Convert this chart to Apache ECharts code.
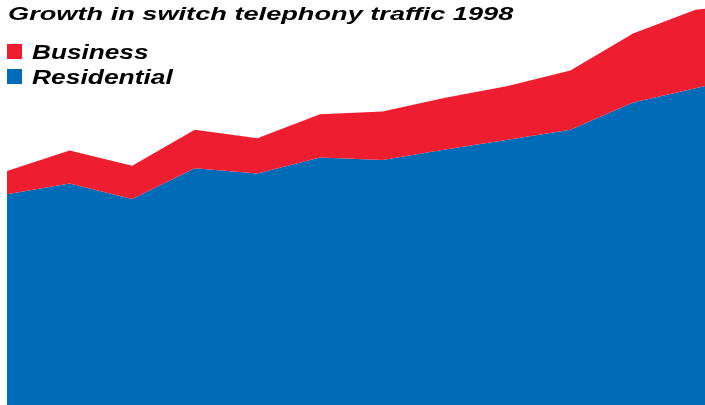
<!DOCTYPE html>
<html>
<head>
<meta charset="utf-8">
<script src="https://cdn.jsdelivr.net/npm/echarts@6/dist/echarts.min.js"></script>
<style>
html,body{margin:0;padding:0;background:#fff;}
#chart{width:705px;height:405px;}
</style>
</head>
<body>
<div id="chart"></div>
<script>
var titleText = 'Growth in switch telephony traffic 1998';
var categories = ['Jan','Feb','Mar','Apr','May','Jun','Jul','Aug','Sep','Oct','Nov','Dec','Jan 1999'];
var residential = [52.7, 55.4, 51.5, 59.2, 57.9, 61.9, 61.25, 63.9, 66.3, 68.8, 75.6, 79.2, 82.75];
var business = [5.8, 8.2, 8.3, 9.6, 8.8, 10.8, 12.1, 12.9, 13.45, 14.85, 17.3, 19.6, 17.6];
var seriesNames = ['Business', 'Residential'];
var colors = { Business: '#EE1E30', Residential: '#006BB6' };

var chart = echarts.init(document.getElementById('chart'), null, {renderer: 'canvas'});
var font = 'italic bold 20px "Liberation Sans", Arial, sans-serif';
var option = {
  animation: false,
  backgroundColor: '#ffffff',
  grid: { left: 7, width: 751.2, top: 5, height: 400, containLabel: false, outerBoundsMode: 'none' },
  xAxis: {
    type: 'category', data: categories, boundaryGap: false,
    axisLine: {show: false}, axisTick: {show: false}, axisLabel: {show: false}, splitLine: {show: false}
  },
  yAxis: {
    type: 'value', min: 0, max: 100,
    axisLine: {show: false}, axisTick: {show: false}, axisLabel: {show: false}, splitLine: {show: false}
  },
  series: [
    { name: 'Residential', type: 'line', stack: 'total', data: residential, showSymbol: false, symbol: 'none',
      lineStyle: {width: 0}, areaStyle: {color: colors.Residential, opacity: 1}, itemStyle: {color: colors.Residential}, clip: false },
    { name: 'Business', type: 'line', stack: 'total', data: business, showSymbol: false, symbol: 'none',
      lineStyle: {width: 0}, areaStyle: {color: colors.Business, opacity: 1}, itemStyle: {color: colors.Business}, clip: false }
  ],
  graphic: [
    { type: 'text', x: 8, y: 24, scaleX: 1.43, z: 100,
      style: { text: titleText, x: 0, y: 0, font: 'italic bold 19px "Liberation Sans", Arial, sans-serif', fill: '#000', textVerticalAlign: 'bottom' } },
    { type: 'rect', shape: {x: 7, y: 44, width: 15, height: 15}, style: {fill: colors.Business}, z: 100 },
    { type: 'rect', shape: {x: 7, y: 69, width: 15, height: 15}, style: {fill: colors.Residential}, z: 100 },
    { type: 'text', x: 32, y: 63, scaleX: 1.31, z: 100,
      style: { text: seriesNames[0], x: 0, y: 0, font: font, fill: '#000', textVerticalAlign: 'bottom' } },
    { type: 'text', x: 32, y: 88, scaleX: 1.32, z: 100,
      style: { text: seriesNames[1], x: 0, y: 0, font: font, fill: '#000', textVerticalAlign: 'bottom' } }
  ]
};
chart.setOption(option);
</script>
</body>
</html>
